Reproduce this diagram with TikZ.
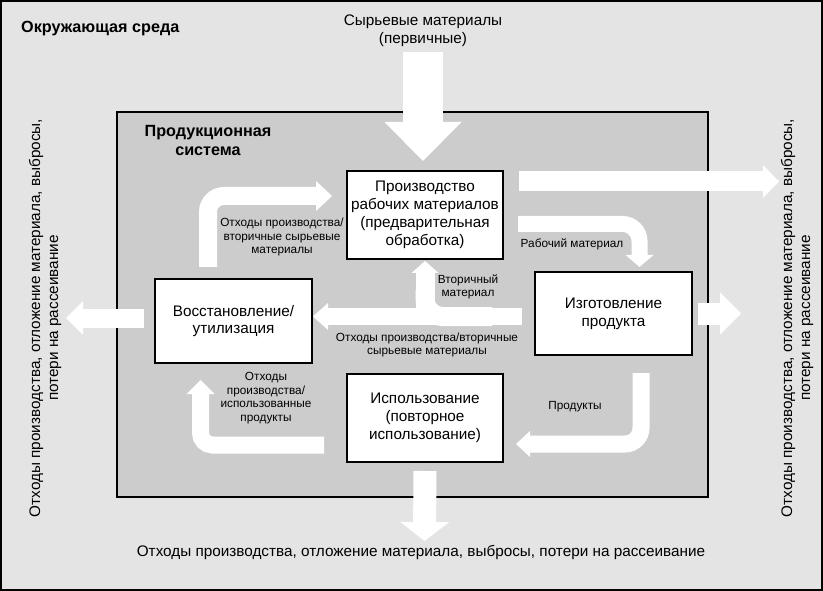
\documentclass[tikz,border=0pt]{standalone}
\usepackage{fontspec}
\setmainfont{Liberation Sans}
\usepackage{xcolor}
\usetikzlibrary{arrows.meta,calc}

\definecolor{envgray}{gray}{0.895}
\definecolor{sysgray}{gray}{0.8}

\begin{document}
\begin{tikzpicture}[
   x=1pt, y=-1pt,
   box/.style={draw, line width=2pt, fill=white, minimum width=156pt,
               minimum height=88pt, align=center, inner sep=2pt,
               font=\fontsize{15.3}{17.8}\selectfont},
   lbl/.style={align=center, inner sep=0pt, font=\fontsize{11.8}{13.5}\selectfont},
   txt/.style={align=center, inner sep=0pt, font=\fontsize{15.3}{18}\selectfont},
   ttl/.style={align=center, inner sep=0pt, font=\fontsize{16.2}{19}\selectfont\bfseries},
   flow/.style={draw=white, line width=#1},
   fathead/.style 2 args={-{Triangle[width=#1, length=#2, line width=0pt]}}]
  \useasboundingbox (0,0) rectangle (823,591);
  % frames
  \filldraw[fill=envgray, line width=2pt] (1,1) rectangle (822,590);
  \filldraw[fill=sysgray, line width=2pt] (117,112) rectangle (708,497);
  \node[ttl, anchor=west] (envtitle) at (21,29) {Окружающая среда};
  \node[ttl] (systitle) at (208,141) {Продукционная\\система};
  \node[txt] (raw) at (423,31) {Сырьевые материалы\\(первичные)};
  % process boxes
  \node[box] (prod) at (425,215) {Производство\\рабочих материалов\\(предварительная\\обработка)};
  \node[box, minimum width=157pt, minimum height=84pt] (recov) at (233.5,321) {Восстановление/\\утилизация};
  \node[box, minimum width=157pt, minimum height=83pt] (manuf) at (613.5,313.5) {Изготовление\\продукта};
  \node[box] (use) at (425,418) {Использование\\(повторное\\использование)};
  % outputs to the environment
  \node[txt, rotate=90] (outleft) at (45,318) {Отходы производства, отложение материала, выбросы,\\потери на рассеивание};
  \node[txt, rotate=90] (outright) at (797,318) {Отходы производства, отложение материала, выбросы,\\потери на рассеивание};
  \node[txt] (outbottom) at (421,552) {Отходы производства, отложение материала, выбросы, потери на рассеивание};
  \coordinate (outR1) at (779,181.5);
  \coordinate (outR2) at (741,313.5);
  \coordinate (outL) at (66,318);
  \coordinate (outB) at (424.5,541);
  % flow labels
  \node[lbl] (lblrec) at (282,237) {Отходы производства/\\вторичные сырьевые\\материалы};
  \node[lbl] (lblsec) at (468,287) {Вторичный\\материал};
  \node[lbl] (lblwork) at (572,244) {Рабочий материал};
  \node[lbl] (lblwaste) at (427,345) {Отходы производства/вторичные\\сырьевые материалы};
  \node[lbl] (lblprod) at (575,407) {Продукты};
  \node[lbl] (lblused) at (266,398) {Отходы\\производства/\\использованные\\продукты};
  % flows
  \draw[flow=40pt, fathead={77pt}{39pt}, shorten >=9pt] ([yshift=-5pt]raw.south) -- (raw.south |- prod.north);
  \draw[flow=20pt, fathead={33pt}{16pt}] ([xshift=15pt]prod.east |- outR1) -- (outR1);
  \draw[flow=16pt, fathead={28pt}{12pt}, rounded corners=17pt]
    ([xshift=14pt, yshift=-9pt]prod.east) -| ([xshift=26pt, yshift=4pt]manuf.north);
  \draw[flow=22pt, fathead={42pt}{21pt}] ([xshift=5pt]manuf.east) -- (outR2);
  \draw[flow=17pt, fathead={26pt}{14pt}, rounded corners=16pt]
    ([xshift=27.5pt, yshift=-17pt]manuf.south) |- ([xshift=12pt, yshift=-26pt]use.east);
  \draw[flow=17pt, fathead={27pt}{15pt}]
    ([xshift=-12pt, yshift=-3pt]manuf.west) coordinate (mid) -- (mid -| recov.east);
  \draw[flow=19pt, rounded corners=18pt] ([xshift=-30pt]mid) -| ($(prod.south)+(0,30)$);
  \draw[flow=19pt, fathead={27pt}{12pt}, shorten >=1pt] (prod.south |- mid) -- (prod.south);
  \draw[flow=18pt, fathead={30pt}{16pt}, rounded corners=16pt]
    ([xshift=-25.5pt, yshift=11pt]recov.north) |- ([xshift=-14pt, yshift=19pt]prod.west);
  \draw[flow=17pt, fathead={28pt}{14pt}, rounded corners=12pt]
    ([xshift=-22pt, yshift=-27pt]use.west) -| ([xshift=-33pt, yshift=-16pt]recov.south);
  \draw[flow=23pt, fathead={49pt}{19pt}] ([yshift=-8pt]use.south) -- (outB);
  \draw[flow=19pt, fathead={34pt}{17pt}] ([xshift=-10pt, yshift=3pt]recov.west) -- (outL);
\end{tikzpicture}
\end{document}
